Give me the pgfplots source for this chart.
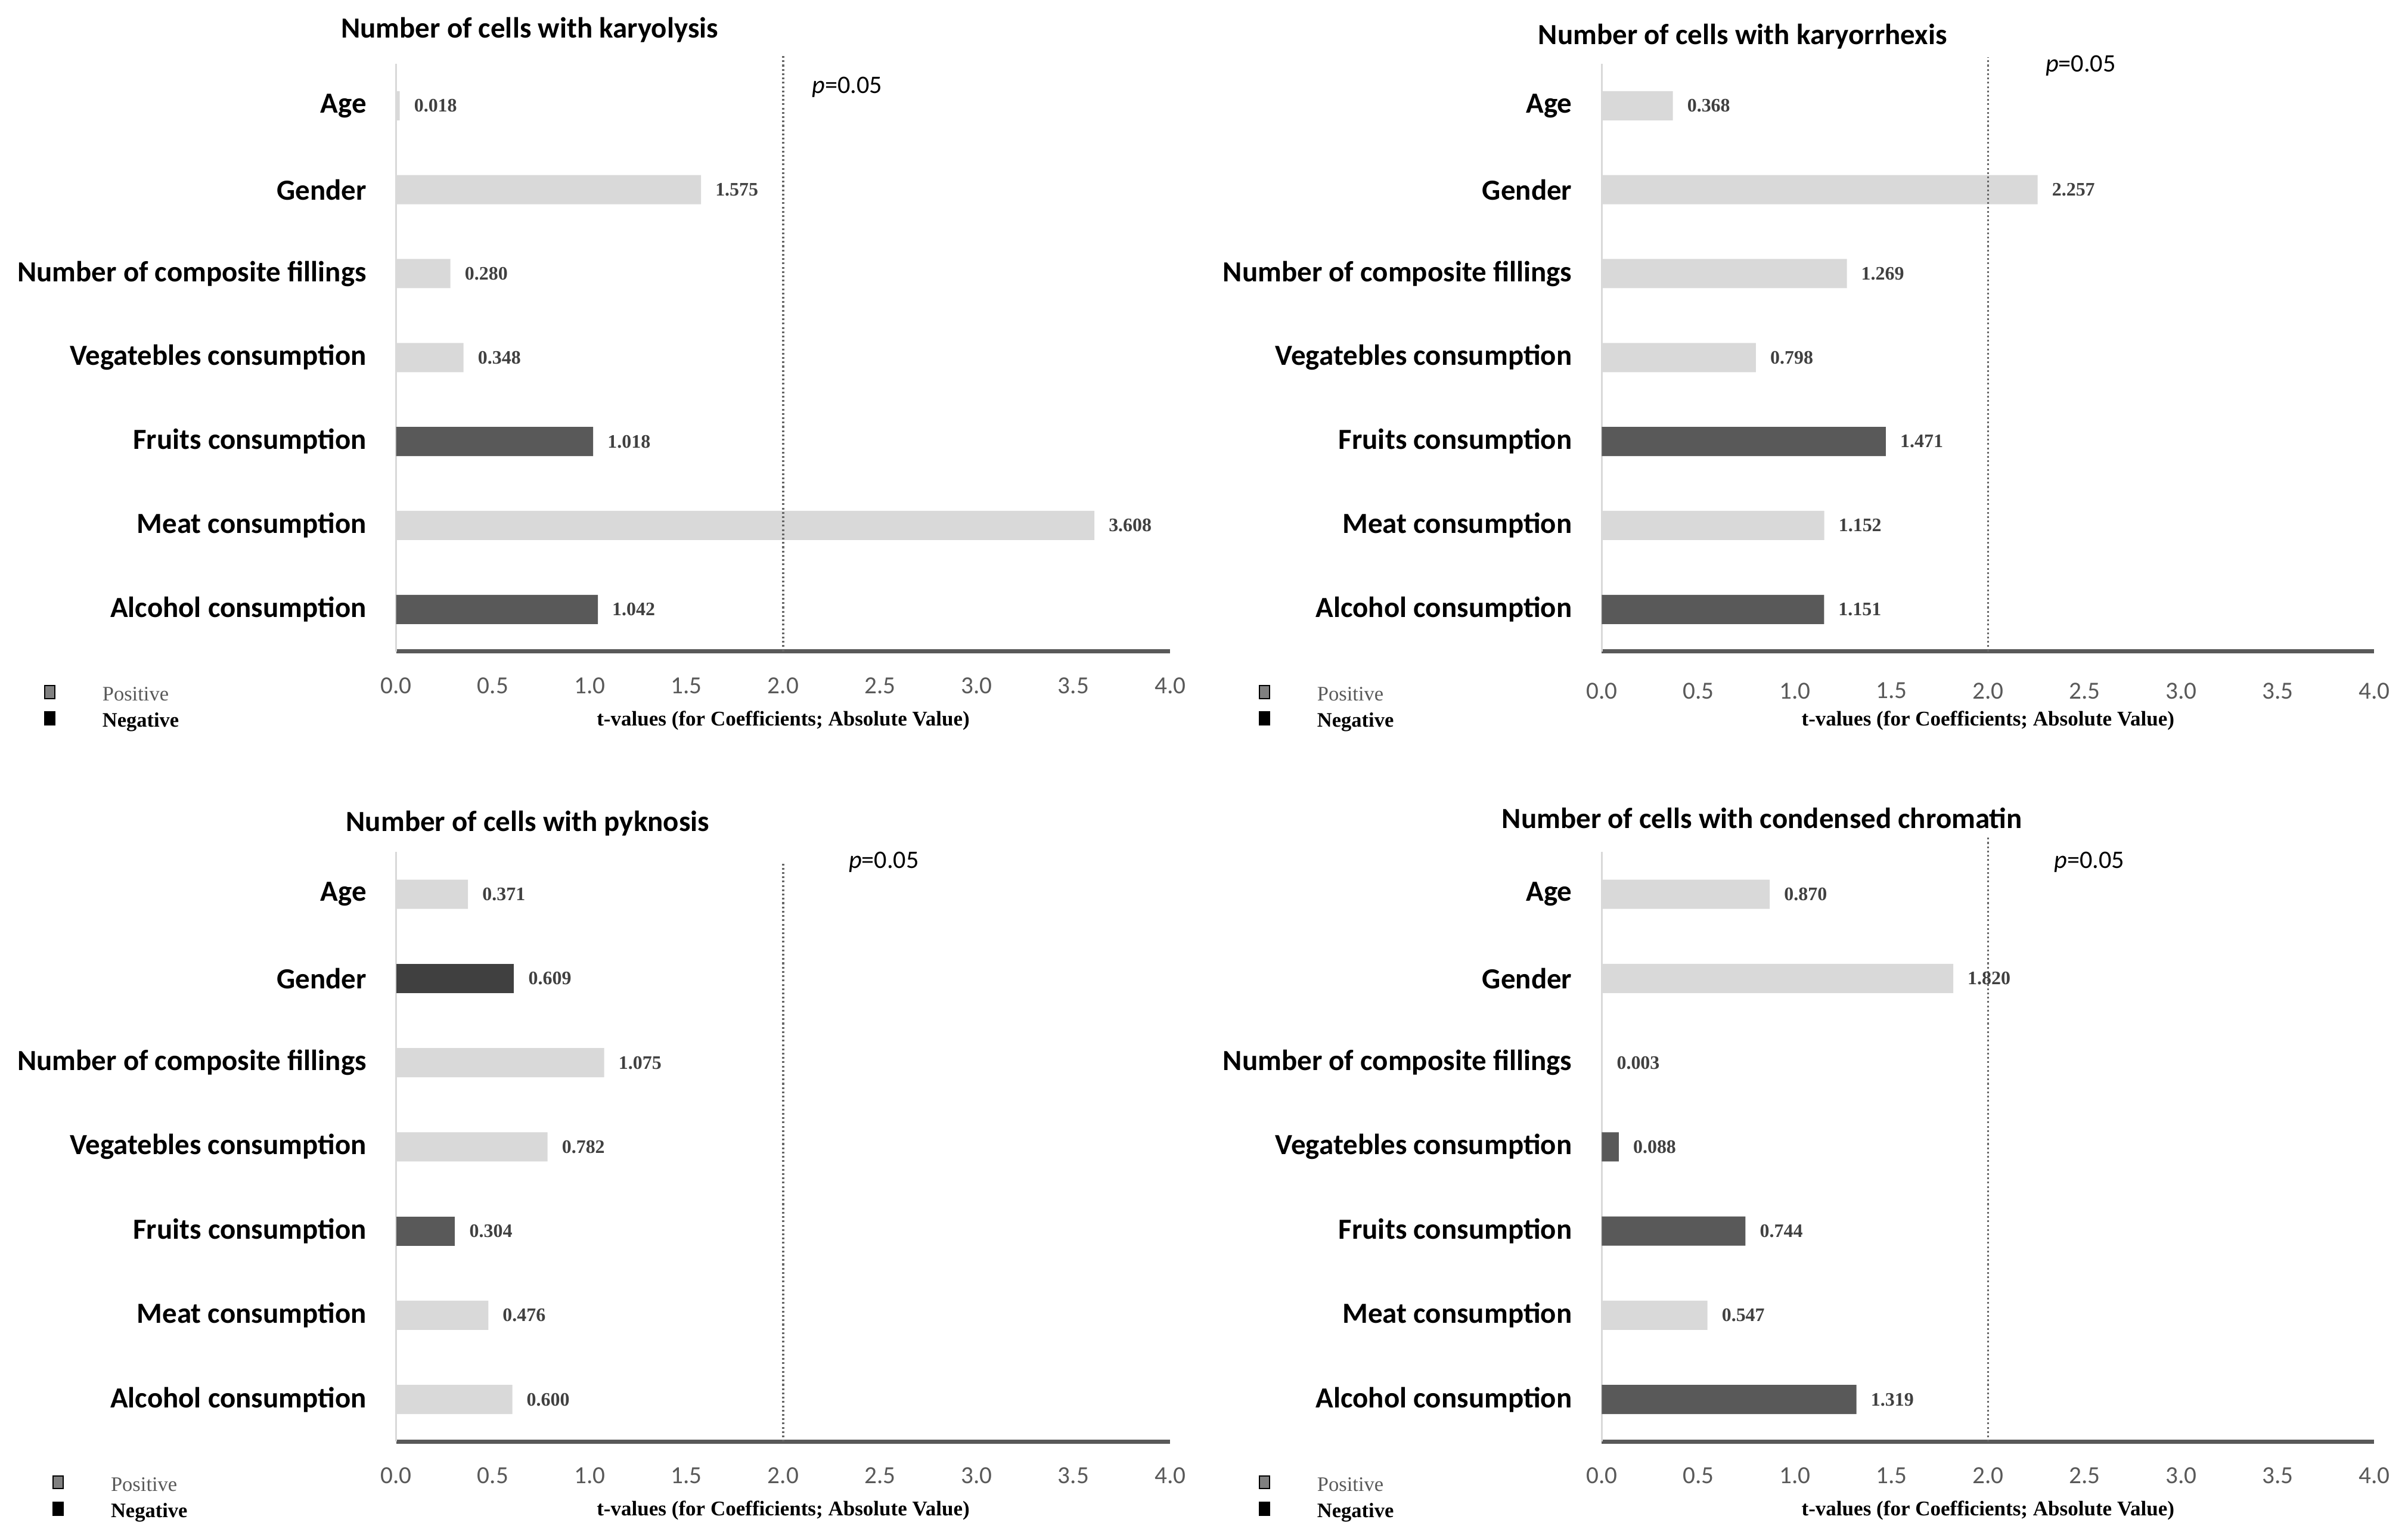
\documentclass[border=0pt]{standalone}
\usepackage{fontspec}
\setmainfont{Liberation Serif}
\newfontfamily\carlito{Carlito}
\usepackage{pgfplots}
\pgfplotsset{compat=1.18}

\definecolor{posbar}{HTML}{D9D9D9}
\definecolor{negbar}{HTML}{595959}
\definecolor{negdark}{HTML}{404040}

\pgfplotsset{
  panel/.style={
    scale only axis, width=252pt,
    xmin=0, xmax=4, ymin=-0.5, ymax=6.5,
    clip=false,
    axis x line=bottom, axis y line=left,
    x axis line style={-, draw=black!65, line width=1.3pt},
    y axis line style={-, draw=black!15, line width=0.5pt},
    major tick length=0pt,
    xtick={0,0.5,1,1.5,2,2.5,3,3.5,4},
    ytick={0,1,2,3,4,5,6},
    yticklabels={Alcohol consumption, Meat consumption, Fruits consumption,
      Vegatebles consumption, Number of composite fillings, Gender, Age},
    /pgf/number format/assume math mode=true,
    xticklabel style={font=\carlito\fontsize{8}{9.6}\selectfont, text=black!65,
      inner sep=0pt, anchor=north, yshift=-8.3pt,
      /pgf/number format/fixed, /pgf/number format/fixed zerofill,
      /pgf/number format/precision=1},
    yticklabel style={font=\carlito\bfseries\fontsize{9.5}{11}\selectfont,
      text=black, inner sep=0pt, anchor=east, xshift=-9.5pt},
    xlabel={t-values (for Coefficients; Absolute Value)},
    xlabel style={font=\bfseries\fontsize{6.8}{8}\selectfont,
      at={(rel axis cs:0.5,0)}, anchor=center, yshift=-22.5pt},
    legend style={draw=none, fill=none, at={(rel axis cs:0,0)}, anchor=north west,
      inner sep=0pt, outer sep=0pt, row sep=2.1pt, column sep=15.3pt,
      font=\fontsize{6.7}{8}\selectfont,
      nodes={inner sep=0pt, text height=4.6pt, text depth=1.4pt},
      cells={anchor=west}},
    legend image code/.code={\fill[##1] (0pt,-0.9pt) rectangle (3.3pt,3.3pt);},
  },
  bars/.style={xbar, bar width=9.5pt, bar shift=0pt, draw=none, forget plot,
    point meta=explicit symbolic, nodes near coords,
    nodes near coords style={font=\bfseries\fontsize{6.2}{7}\selectfont,
      text=black!75, anchor=west, inner sep=0pt, xshift=4.5pt}},
  pos/.style={bars, fill=posbar},
  neg/.style={bars, fill=negbar},
  pline/.style={forget plot, sharp plot, no marks, draw=black!60, line width=0.6pt,
    dash pattern=on 0.6pt off 0.8pt},
}

\newcommand{\keyentries}{%
  \addlegendimage{fill=black!50}
  \addlegendentry{\textcolor{black!65}{Positive}}
  \addlegendimage{fill=black}
  \addlegendentry{\textbf{Negative}}}

\newcommand{\ptitle}[1]{{\carlito\bfseries\fontsize{9.5}{11}\selectfont #1}}
\newcommand{\pval}{{\carlito\fontsize{8.2}{10}\selectfont{\itshape p}=0.05}}

\begin{document}
\begin{tikzpicture}
\path[use as bounding box] (0,0) rectangle (784pt,500.5pt);

% karyolysis
\begin{axis}[panel, height=191.3pt, at={(129pt,288.45pt)}, anchor=south west,
  legend style={xshift=-114.65pt, yshift=-10.95pt}]
\keyentries
\addplot[pos] coordinates {(0.018,6) [0.018] (1.575,5) [1.575] (0.280,4) [0.280]
  (0.348,3) [0.348] (3.608,1) [3.608]};
\addplot[neg] coordinates {(1.018,2) [1.018] (1.042,0) [1.042]};
\addplot[pline] coordinates {(2,-0.5) (2,6.59)};
\node at (axis cs:0.69,6.5) [yshift=11pt] {\ptitle{Number of cells with karyolysis}};
\node at (axis cs:2.33,6.22) {\pval};
\end{axis}

% karyorrhexis
\begin{axis}[panel, height=191.3pt, at={(521.5pt,288.45pt)}, anchor=south west,
  width=251.5pt, legend style={xshift=-111.65pt, yshift=-10.95pt},
  xticklabel style={yshift=-1.7pt}]
\keyentries
\addplot[pos] coordinates {(0.368,6) [0.368] (2.257,5) [2.257] (1.269,4) [1.269]
  (0.798,3) [0.798] (1.152,1) [1.152]};
\addplot[neg] coordinates {(1.471,2) [1.471] (1.151,0) [1.151]};
\addplot[pline] coordinates {(2,-0.5) (2,6.58)};
\node at (axis cs:0.73,6.5) [yshift=8.9pt] {\ptitle{Number of cells with karyorrhexis}};
\node at (axis cs:2.48,6.48) {\pval};
\end{axis}

% pyknosis
\begin{axis}[panel, height=191.9pt, at={(129pt,31.2pt)}, anchor=south west,
  legend style={xshift=-111.9pt, yshift=-10.95pt}]
\keyentries
\addplot[pos] coordinates {(0.371,6) [0.371] (1.075,4) [1.075] (0.782,3) [0.782]
  (0.476,1) [0.476] (0.600,0) [0.600]};
\addplot[bars, fill=negdark] coordinates {(0.609,5) [0.609]};
\addplot[neg] coordinates {(0.304,2) [0.304]};
\addplot[pline] coordinates {(2,-0.5) (2,6.37)};
\node at (axis cs:0.68,6.5) [yshift=9.3pt] {\ptitle{Number of cells with pyknosis}};
\node at (axis cs:2.52,6.38) {\pval};
\end{axis}

% condensed chromatin
\begin{axis}[panel, height=191.9pt, at={(521.5pt,31.2pt)}, anchor=south west,
  width=251.5pt, legend style={xshift=-111.65pt, yshift=-10.95pt}]
\keyentries
\addplot[pos] coordinates {(0.870,6) [0.870] (1.820,5) [1.820] (0.003,4) [0.003]
  (0.547,1) [0.547]};
\addplot[neg] coordinates {(0.088,3) [0.088] (0.744,2) [0.744] (1.319,0) [1.319]};
\addplot[pline] coordinates {(2,-0.5) (2,6.70)};
\node at (axis cs:0.83,6.5) [yshift=11pt] {\ptitle{Number of cells with condensed chromatin}};
\node at (axis cs:2.525,6.38) {\pval};
\end{axis}
\end{tikzpicture}
\end{document}
